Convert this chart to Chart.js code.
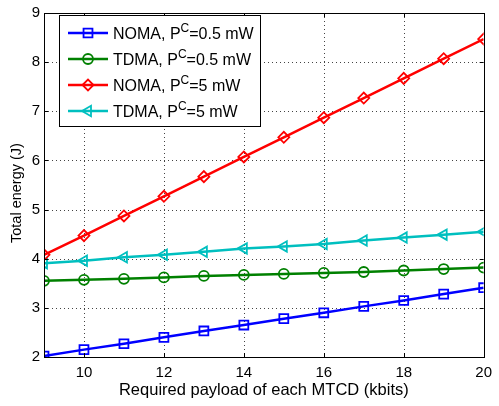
<!DOCTYPE html>
<html>
<head>
<meta charset="utf-8">
<script src="https://cdn.jsdelivr.net/npm/chart.js@4"></script>
<style>
  html, body { margin: 0; padding: 0; background: #fff; }
  #wrap { width: 499px; height: 406px; }
</style>
</head>
<body>
<div id="wrap"><canvas id="energy"></canvas></div>
<script>
const payload = [9, 10, 11, 12, 13, 14, 15, 16, 17, 18, 19, 20];
const nomaLow = [2.02, 2.15, 2.27, 2.40, 2.53, 2.65, 2.78, 2.90, 3.03, 3.15, 3.28, 3.41];
const tdmaLow = [3.55, 3.57, 3.59, 3.62, 3.65, 3.67, 3.69, 3.71, 3.73, 3.76, 3.79, 3.82];
const nomaHigh = [4.08, 4.47, 4.87, 5.27, 5.67, 6.07, 6.47, 6.87, 7.27, 7.67, 8.07, 8.47];
const tdmaHigh = [3.91, 3.96, 4.03, 4.08, 4.14, 4.21, 4.25, 4.30, 4.37, 4.43, 4.49, 4.55];
const xTicks = [10, 12, 14, 16, 18, 20];
const yTicks = [2, 3, 4, 5, 6, 7, 8, 9];
const legendNames = ['NOMA, P', 'TDMA, P', 'NOMA, P', 'TDMA, P'];
const legendTails = ['=0.5 mW', '=0.5 mW', '=5 mW', '=5 mW'];

const FONT = '"Liberation Sans", Arial, sans-serif';

function series(values, color, style, radius, rot) {
  return {
    data: payload.map((x, i) => ({ x: x, y: values[i] })),
    borderColor: color,
    backgroundColor: 'rgba(0,0,0,0)',
    pointBorderColor: color,
    pointBackgroundColor: 'rgba(0,0,0,0)',
    borderWidth: 2.5,
    pointBorderWidth: 1.8,
    pointRadius: radius,
    pointStyle: style,
    pointRotation: rot || 0,
    tension: 0
  };
}

const datasets = [
  series(nomaLow, '#0000ff', 'rect', 6.3),
  series(tdmaLow, '#008000', 'circle', 5),
  series(nomaHigh, '#ff0000', 'rectRot', 5.5),
  series(tdmaHigh, '#00bfbf', 'triangle', 6, -90)
];

// dotted grid behind the lines
const dottedGrid = {
  id: 'dottedGrid',
  beforeDatasetsDraw(chart) {
    const ctx = chart.ctx;
    const a = chart.chartArea;
    const xs = chart.scales.x, ys = chart.scales.y;
    ctx.save();
    ctx.strokeStyle = '#444';
    ctx.lineWidth = 1;
    ctx.setLineDash([1, 3]);
    ctx.beginPath();
    xTicks.forEach(v => {
      const px = Math.round(xs.getPixelForValue(v)) + 0.5;
      ctx.moveTo(px, a.top); ctx.lineTo(px, a.bottom);
    });
    yTicks.forEach(v => {
      const py = Math.round(ys.getPixelForValue(v)) + 0.5;
      ctx.moveTo(a.left, py); ctx.lineTo(a.right, py);
    });
    ctx.stroke();
    ctx.restore();
  }
};

// matlab style frame, inward ticks and the legend box
const matlabBox = {
  id: 'matlabBox',
  afterDraw(chart) {
    const ctx = chart.ctx;
    const a = chart.chartArea;
    const xs = chart.scales.x, ys = chart.scales.y;
    ctx.save();
    ctx.strokeStyle = '#000';
    ctx.lineWidth = 1;
    ctx.strokeRect(Math.round(a.left) + 0.5, Math.round(a.top) + 0.5,
                   Math.round(a.right - a.left), Math.round(a.bottom - a.top));
    ctx.beginPath();
    xTicks.forEach(v => {
      const px = Math.round(xs.getPixelForValue(v)) + 0.5;
      ctx.moveTo(px, a.bottom); ctx.lineTo(px, a.bottom - 4);
      ctx.moveTo(px, a.top); ctx.lineTo(px, a.top + 4);
    });
    yTicks.forEach(v => {
      const py = Math.round(ys.getPixelForValue(v)) + 0.5;
      ctx.moveTo(a.left, py); ctx.lineTo(a.left + 4, py);
      ctx.moveTo(a.right, py); ctx.lineTo(a.right - 4, py);
    });
    ctx.stroke();

    // legend
    const bx = 59.5, by = 15.5, bw = 201, bh = 111;
    ctx.fillStyle = '#fff';
    ctx.fillRect(bx, by, bw, bh);
    ctx.strokeRect(bx, by, bw, bh);
    const rows = [33, 59, 85, 111];
    datasets.forEach((ds, i) => {
      const y = rows[i];
      ctx.strokeStyle = ds.borderColor;
      ctx.lineWidth = ds.borderWidth;
      ctx.beginPath();
      ctx.moveTo(68, y); ctx.lineTo(108, y);
      ctx.stroke();
      ctx.lineWidth = ds.pointBorderWidth;
      ctx.fillStyle = 'rgba(0,0,0,0)';
      Chart.helpers.drawPoint(ctx, {
        pointStyle: ds.pointStyle, rotation: ds.pointRotation,
        radius: ds.pointRadius, borderWidth: ds.pointBorderWidth
      }, 88, y);
      ctx.fillStyle = '#000';
      ctx.textBaseline = 'middle';
      ctx.textAlign = 'left';
      ctx.font = '16px ' + FONT;
      let tx = 113;
      ctx.fillText(legendNames[i], tx, y + 2);
      tx += ctx.measureText(legendNames[i]).width;
      ctx.font = '12px ' + FONT;
      ctx.fillText('C', tx, y - 4);
      tx += ctx.measureText('C').width;
      ctx.font = '16px ' + FONT;
      ctx.fillText(legendTails[i], tx, y + 2);
    });
    ctx.restore();
  }
};

new Chart(document.getElementById('energy'), {
  type: 'line',
  data: { datasets: datasets },
  plugins: [dottedGrid, matlabBox],
  options: {
    responsive: true,
    maintainAspectRatio: false,
    animation: false,
    layout: { padding: { top: 5, right: 8, left: 0, bottom: 0 } },
    plugins: { legend: { display: false }, tooltip: { enabled: false } },
    scales: {
      x: {
        type: 'linear',
        min: 9, max: 20,
        afterBuildTicks: s => { s.ticks = xTicks.map(v => ({ value: v })); },
        afterFit: s => { s.height = 49; },
        grid: { display: false, drawTicks: false },
        border: { display: false },
        ticks: { color: '#000', font: { family: FONT, size: 15 }, padding: 7, maxRotation: 0 },
        title: { display: true, text: 'Required payload of each MTCD (kbits)', color: '#000',
                 font: { family: FONT, size: 16.5 }, padding: { top: 0, bottom: 6 } }
      },
      y: {
        min: 2, max: 9,
        afterBuildTicks: s => { s.ticks = yTicks.map(v => ({ value: v })); },
        afterFit: s => { s.width = 44; },
        grid: { display: false, drawTicks: false },
        border: { display: false },
        ticks: { color: '#000', font: { family: FONT, size: 15 }, padding: 4 },
        title: { display: true, text: 'Total energy (J)    ', color: '#000',
                 font: { family: FONT, size: 14.5 }, padding: { top: 8, bottom: 0 } }
      }
    }
  }
});
</script>
</body>
</html>
